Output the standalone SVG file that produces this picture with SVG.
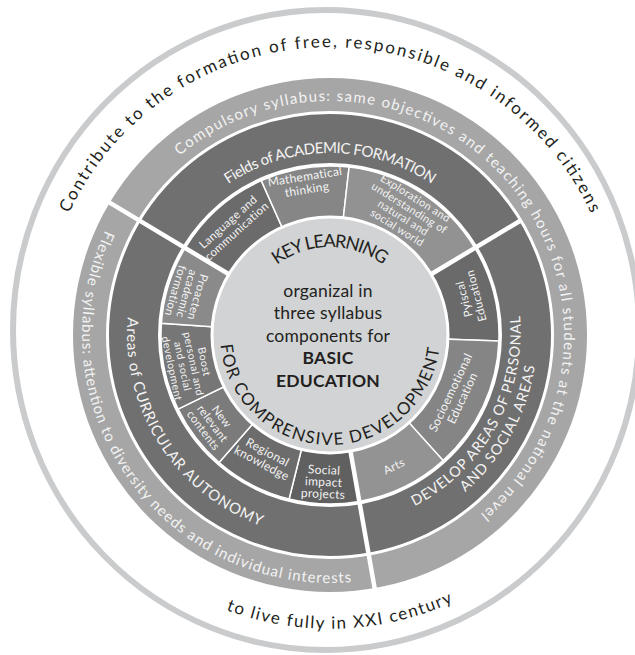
<svg xmlns="http://www.w3.org/2000/svg" width="635" height="655" viewBox="0 0 635 655">
  <style>
    text { font-family: Lato, "Open Sans", "DejaVu Sans", sans-serif; }
    .dark { fill: #231f20; }
    .light { fill: #f3f3f3; }
    .cell { stroke: #ffffff; stroke-width: 1.5; }
    .sep { stroke: #ffffff; stroke-width: 4.5; }
    .gap { fill: none; stroke: #ffffff; stroke-width: 3; }
    .ctext { font-size: 11.5px; fill: #f3f3f3; text-anchor: middle; letter-spacing: 0.3px; }
  </style>
  <defs>
    <!-- text guides, all around the common centre (330,335) -->
    <path id="p-outer-top" d="M42 335 A288 288 0 0 1 618 335"/>
    <path id="p-outer-bottom" d="M33.2 345.4 A297 297 0 0 0 626.8 324.6"/>
    <path id="p-compulsory" d="M99.6 375.6 A234 234 0 1 1 250 554.9"/>
    <path id="p-flexible" d="M434.8 110.2 A248 248 0 1 0 577.1 313.4"/>
    <path id="p-fields" d="M148 335 A182 182 0 0 1 512 335"/>
    <path id="p-areas" d="M220.9 163.8 A203 203 0 0 0 439.1 506.2"/>
    <path id="p-develop1" d="M235.5 505.5 A195 195 0 0 0 424.5 164.5"/>
    <path id="p-develop2" d="M227.7 519.5 A211 211 0 0 0 432.3 150.5"/>
    <path id="p-key" d="M242 335 A88 88 0 0 1 418 335"/>
    <path id="p-for" d="M276.7 238.8 A110 110 0 1 0 386.7 240.7"/>
  </defs>

  <!-- outer frame with the overall purpose -->
  <g id="purpose">
    <ellipse cx="326" cy="330" rx="313" ry="320" fill="#ffffff" stroke="#c9cbcc" stroke-width="6"/>
    <text class="dark" font-size="17"><textPath href="#p-outer-top" startOffset="50%" text-anchor="middle" textLength="653" lengthAdjust="spacing">Contribute to the formation of free, responsible and informed citizens</textPath></text>
    <text class="dark" font-size="17"><textPath href="#p-outer-bottom" startOffset="50%" text-anchor="middle" textLength="233" lengthAdjust="spacing">to live fully in XXI century</textPath></text>
  </g>

  <!-- syllabus band -->
  <g id="syllabus-band">
    <circle cx="330" cy="335" r="257" fill="#a6a6a6"/>
    <text class="light" font-size="15"><textPath href="#p-compulsory" startOffset="50%" text-anchor="middle" textLength="735" lengthAdjust="spacing">Compulsory syllabus: same objectives and teaching hours for all students at the national nevel</textPath></text>
    <text class="light" font-size="15"><textPath href="#p-flexible" startOffset="50%" text-anchor="middle" textLength="519" lengthAdjust="spacing">Flexible syllabus: attention to diversity needs and individual interests</textPath></text>
  </g>

  <!-- curricular components ring -->
  <g id="components-ring">
    <circle cx="330" cy="335" r="222.5" fill="#707070" stroke="#ffffff" stroke-width="3"/>
    <text class="light" font-size="15"><textPath href="#p-fields" startOffset="50%" text-anchor="middle" textLength="216" lengthAdjust="spacing">Fields of ACADEMIC FORMATION</textPath></text>
    <text class="light" font-size="15"><textPath href="#p-areas" startOffset="50%" text-anchor="middle" textLength="266" lengthAdjust="spacing">Areas of CURRICULAR AUTONOMY</textPath></text>
    <text class="light" font-size="14.5"><textPath href="#p-develop1" startOffset="50%" text-anchor="middle" textLength="231" lengthAdjust="spacing">DEVELOP AREAS OF PERSONAL</textPath></text>
    <text class="light" font-size="14.5"><textPath href="#p-develop2" startOffset="50%" text-anchor="middle" textLength="147" lengthAdjust="spacing">AND SOCIAL AREAS</textPath></text>
  </g>

  <!-- subject cells -->
  <g id="cell-language"><path class="cell" fill="#6b6b6b" d="M330 335 L185.1 248 A169 169 0 0 1 261.3 180.6 Z"/></g>
  <g id="cell-math"><path class="cell" fill="#868686" d="M330 335 L261.3 180.6 A169 169 0 0 1 349.1 167.1 Z"/></g>
  <g id="cell-exploration"><path class="cell" fill="#929292" d="M330 335 L349.1 167.1 A169 169 0 0 1 474.9 248 Z"/></g>
  <g id="cell-physical"><path class="cell" fill="#6a6a6a" d="M330 335 L474.9 248 A169 169 0 0 1 498.9 340.9 Z"/></g>
  <g id="cell-socioemotional"><path class="cell" fill="#858585" d="M330 335 L498.9 340.9 A169 169 0 0 1 443.1 460.6 Z"/></g>
  <g id="cell-arts"><path class="cell" fill="#939393" d="M330 335 L443.1 460.6 A169 169 0 0 1 359.3 501.4 Z"/></g>
  <g id="cell-social-impact"><path class="cell" fill="#606060" d="M330 335 L359.3 501.4 A169 169 0 0 1 289.1 499 Z"/></g>
  <g id="cell-regional"><path class="cell" fill="#6c6c6c" d="M330 335 L289.1 499 A169 169 0 0 1 219.1 462.5 Z"/></g>
  <g id="cell-new-contents"><path class="cell" fill="#7b7b7b" d="M330 335 L219.1 462.5 A169 169 0 0 1 178.1 409.1 Z"/></g>
  <g id="cell-boost"><path class="cell" fill="#767676" d="M330 335 L178.1 409.1 A169 169 0 0 1 161.4 323.2 Z"/></g>
  <g id="cell-proactive"><path class="cell" fill="#8a8a8a" d="M330 335 L161.4 323.2 A169 169 0 0 1 185.1 248 Z"/></g>

  <circle class="gap" cx="330" cy="335" r="170.5"/>

  <!-- sector dividers -->
  <g id="connectors">
    <line class="sep" x1="230.6" y1="275.3" x2="108.8" y2="202.1"/>
    <line class="sep" x1="429.4" y1="275.3" x2="520.3" y2="220.7"/>
    <line class="sep" x1="350.1" y1="449.2" x2="374.8" y2="589.1"/>
  </g>

  <!-- key learning core -->
  <g id="core">
    <circle cx="330" cy="335" r="118" fill="#d1d3d4" stroke="#ffffff" stroke-width="3"/>
    <text class="dark" font-size="18"><textPath href="#p-key" startOffset="50%" text-anchor="middle" textLength="114" lengthAdjust="spacing">KEY LEARNING</textPath></text>
    <text class="dark" font-size="17"><textPath href="#p-for" startOffset="50%" text-anchor="middle" textLength="322" lengthAdjust="spacing">FOR COMPRENSIVE DEVELOPMENT</textPath></text>
    <g class="dark" font-size="17.5" text-anchor="middle" letter-spacing="0.2">
      <text x="328" y="297">organizal in</text>
      <text x="328" y="319">three syllabus</text>
      <text x="328" y="342">components for</text>
      <text x="328" y="364" font-weight="bold">BASIC</text>
      <text x="328" y="387" font-weight="bold">EDUCATION</text>
    </g>
  </g>

  <!-- cell labels, set straight and turned about the centre -->
  <g class="ctext">
    <text transform="rotate(-42 330 335)"><tspan x="330" y="186.8">Language and</tspan><tspan x="330" y="199.3">communication</tspan></text>
    <text font-size="12" transform="rotate(-9 330 335)"><tspan x="330" y="178.7">Mathematical</tspan><tspan x="330" y="191.7">thinking</tspan></text>
    <text font-size="11" transform="rotate(32 330 335)"><tspan x="330" y="177.6">Exploration and</tspan><tspan x="330" y="189.1">understanding of</tspan><tspan x="330" y="200.6">natural and</tspan><tspan x="330" y="212.1">social world</tspan></text>
    <text transform="rotate(-105 330 335)"><tspan x="330" y="477.8">Pyiscal</tspan><tspan x="330" y="490.3">Education</tspan></text>
    <text font-size="12" transform="rotate(-64.5 330 335)"><tspan x="330" y="472.7">Socioemotional</tspan><tspan x="330" y="485.7">Education</tspan></text>
    <text transform="rotate(-26 330 335)" x="330" y="485">Arts</text>
    <text font-size="12" transform="rotate(2.5 330 335)"><tspan x="330" y="474.2">Social</tspan><tspan x="330" y="486.2">impact</tspan><tspan x="330" y="498.2">projects</tspan></text>
    <text font-size="12" transform="rotate(28 330 335)"><tspan x="330" y="471.9">Regional</tspan><tspan x="330" y="484.4">knowledge</tspan></text>
    <text transform="rotate(53 330 335)"><tspan x="330" y="474.5">New</tspan><tspan x="330" y="486">relevant</tspan><tspan x="330" y="497.5">contents</tspan></text>
    <text font-size="10.5" letter-spacing="0.5" transform="rotate(78 330 335)"><tspan x="330" y="467.2">Boost</tspan><tspan x="330" y="478.2">personal and</tspan><tspan x="330" y="489.2">and social</tspan><tspan x="330" y="500.2">development</tspan></text>
    <text transform="rotate(106 330 335)"><tspan x="330" y="476.5">Proacten</tspan><tspan x="330" y="488">academic</tspan><tspan x="330" y="499.5">formation</tspan></text>
  </g>
</svg>
